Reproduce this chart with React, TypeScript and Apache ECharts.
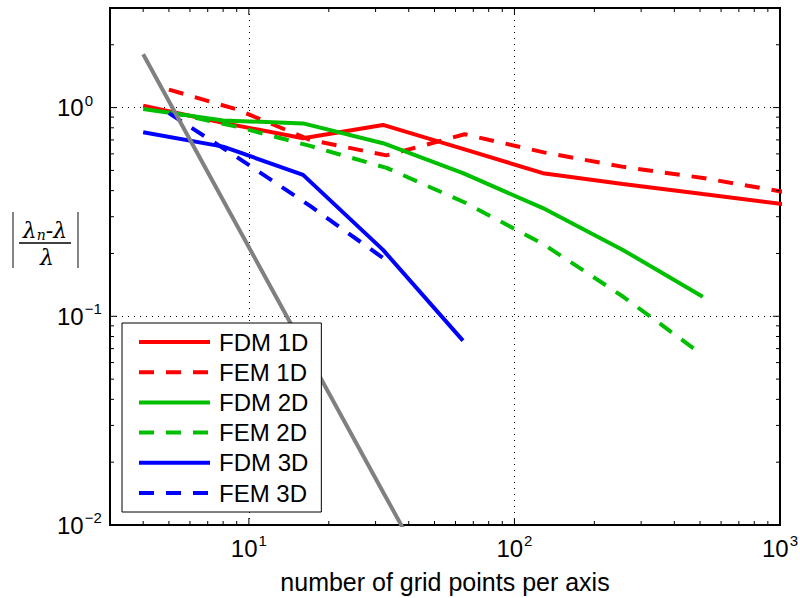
import React, { useEffect, useRef } from 'react';
import * as echarts from 'echarts';

// grid sizes (x) for finite differences and finite elements
const fdmX = [4, 8, 16, 32, 64, 128, 256, 512, 1024];
const femX = [5, 9, 17, 33, 65, 129, 257, 513, 1025];

// relative eigenvalue errors
const fdm1D = [1.02, 0.845, 0.713, 0.826, 0.634, 0.485, 0.43, 0.385, 0.345];
const fem1D = [1.22, 0.98, 0.7, 0.59, 0.745, 0.61, 0.52, 0.46, 0.395];
const fdm2D = [0.985, 0.868, 0.84, 0.675, 0.485, 0.33, 0.208, 0.124];
const fem2D = [0.95, 0.81, 0.655, 0.514, 0.351, 0.221, 0.124, 0.065];
const fdm3D = [0.762, 0.65, 0.476, 0.208, 0.0765];
const fem3D = [0.94, 0.58, 0.338, 0.185];

// gray reference line
const refX = [4, 8, 16, 32, 64];
const refY = [1.8, 0.36, 0.072, 0.0144, 0.0029];

const seriesNames = ['FDM 1D', 'FEM 1D', 'FDM 2D', 'FEM 2D', 'FDM 3D', 'FEM 3D'];
const seriesColors = ['#ff0000', '#ff0000', '#00bf00', '#00bf00', '#0000ff', '#0000ff'];
const seriesDashed = [false, true, false, true, false, true];

// axis ranges and ticks
const xMin = 3;
const xMax = 1000;
const yMin = 0.01;
const yMax = 3;
const xMajorTicks = [10, 100, 1000];
const yMajorTicks = [0.01, 0.1, 1];
const xDecades = [1, 10, 100];
const yDecades = [0.01, 0.1, 1];
const minorMultipliers = [2, 3, 4, 5, 6, 7, 8, 9];

const FONT = 'Liberation Sans';

function zip(xs: number[], ys: number[]) {
  return ys.map((y, i) => [xs[i], y]);
}

function supLabel(v: number) {
  const e = Math.log10(v);
  const r = Math.round(e);
  if (Math.abs(e - r) > 1e-6) return '';
  return `{b|10}{s|${r < 0 ? '\u2212' + -r : r}}`;
}

const labelRich = {
  b: { fontSize: 24, fontFamily: FONT, color: '#000', lineHeight: 32 },
  s: { fontSize: 15, fontFamily: FONT, color: '#000', lineHeight: 15, padding: [0, 0, 15, 1] },
};

export default function App() {
  const ref = useRef<HTMLDivElement>(null);

  useEffect(() => {
    if (!ref.current) return;
    const chart = echarts.init(ref.current, undefined, { renderer: 'svg' });

    const xMinor: number[] = [];
    xDecades.forEach((d) => minorMultipliers.forEach((m) => {
      const v = d * m;
      if (v >= xMin && v <= xMax) xMinor.push(v);
    }));
    const yMinor: number[] = [];
    yDecades.forEach((d) => minorMultipliers.forEach((m) => {
      const v = d * m;
      if (v >= yMin && v <= yMax + 1e-9) yMinor.push(v);
    }));

    const dataSets = [
      zip(fdmX, fdm1D),
      zip(femX, fem1D),
      zip(fdmX, fdm2D),
      zip(femX, fem2D),
      zip(fdmX, fdm3D),
      zip(femX, fem3D),
    ];

    const lineSeries: any[] = dataSets.map((d, i) => ({
      name: seriesNames[i],
      type: 'line',
      data: d,
      symbol: 'none',
      showSymbol: false,
      clip: true,
      lineStyle: {
        color: seriesColors[i],
        width: 4,
        type: seriesDashed[i] ? [15, 12] : 'solid',
        cap: 'butt',
      },
      itemStyle: { color: seriesColors[i] },
      z: 3,
    }));

    lineSeries.push({
      name: 'reference',
      type: 'line',
      data: zip(refX, refY),
      symbol: 'none',
      showSymbol: false,
      clip: true,
      lineStyle: { color: '#808080', width: 4 },
      z: 4,
    });

    const tickStyle = { stroke: '#000', lineWidth: 1 };

    lineSeries.push({
      name: 'xticks',
      type: 'custom',
      silent: true,
      clip: false,
      z: 6,
      encode: { x: 0, y: 1 },
      data: [...xMajorTicks.map((v) => [v, 1, 1]), ...xMinor.map((v) => [v, 1, 0])],
      renderItem: (params: any, api: any) => {
        const p = api.coord([api.value(0), 1]);
        const cs = params.coordSys;
        const len = api.value(2) ? 7 : 4;
        const bottom = cs.y + cs.height;
        return {
          type: 'group',
          children: [
            { type: 'line', shape: { x1: p[0], y1: bottom, x2: p[0], y2: bottom - len }, style: tickStyle },
            { type: 'line', shape: { x1: p[0], y1: cs.y, x2: p[0], y2: cs.y + len }, style: tickStyle },
          ],
        };
      },
    });

    lineSeries.push({
      name: 'yticks',
      type: 'custom',
      silent: true,
      clip: false,
      z: 6,
      encode: { x: 0, y: 1 },
      data: [...yMajorTicks.map((v) => [10, v, 1]), ...yMinor.map((v) => [10, v, 0])],
      renderItem: (params: any, api: any) => {
        const p = api.coord([10, api.value(1)]);
        const cs = params.coordSys;
        const len = api.value(2) ? 7 : 4;
        const right = cs.x + cs.width;
        return {
          type: 'group',
          children: [
            { type: 'line', shape: { x1: cs.x, y1: p[1], x2: cs.x + len, y2: p[1] }, style: tickStyle },
            { type: 'line', shape: { x1: right, y1: p[1], x2: right - len, y2: p[1] }, style: tickStyle },
          ],
        };
      },
    });

    const option: any = {
      animation: false,
      backgroundColor: '#fff',
      grid: {
        left: 110,
        right: 20,
        top: 8,
        bottom: 73,
        show: true,
        borderColor: '#000',
        borderWidth: 2,
        backgroundColor: 'transparent',
        containLabel: false,
        outerBoundsMode: 'none',
      },
      legend: {
        data: seriesNames,
        orient: 'vertical',
        left: 122,
        top: 323,
        itemWidth: 71,
        itemHeight: 24,
        itemGap: 6.2,
        padding: [7, 13, 7, 15],
        borderColor: '#000',
        borderWidth: 1,
        backgroundColor: '#fff',
        selectedMode: false,
        itemStyle: { opacity: 0 },
        lineStyle: { width: 4 },
        textStyle: { fontSize: 24, fontFamily: FONT, color: '#000', lineHeight: 24, padding: [0, 0, 0, 4] },
        z: 10,
      },
      xAxis: {
        type: 'log',
        logBase: 10,
        min: xMin,
        max: xMax,
        name: 'number of grid points per axis',
        nameLocation: 'middle',
        nameGap: 44,
        nameTextStyle: { fontSize: 25, fontFamily: FONT, color: '#000' },
        axisLine: { show: false },
        axisTick: { show: false },
        axisLabel: { formatter: supLabel, rich: labelRich, margin: 7 },
        splitLine: { show: true, lineStyle: { color: '#000', width: 1, type: [1, 5] } },
        minorTick: { show: false },
      },
      yAxis: {
        type: 'log',
        logBase: 10,
        min: yMin,
        max: yMax,
        axisLine: { show: false },
        axisTick: { show: false },
        axisLabel: { formatter: supLabel, rich: labelRich, margin: 53, align: 'left' },
        splitLine: { show: true, lineStyle: { color: '#000', width: 1, type: [1, 5] } },
      },
      graphic: [
        { type: 'line', shape: { x1: 13, y1: 212, x2: 13, y2: 268 }, style: { stroke: '#333', lineWidth: 1.2 } },
        { type: 'line', shape: { x1: 78, y1: 212, x2: 78, y2: 268 }, style: { stroke: '#333', lineWidth: 1.2 } },
        { type: 'line', shape: { x1: 19, y1: 243, x2: 71, y2: 243 }, style: { stroke: '#000', lineWidth: 1.5 } },
        {
          type: 'text',
          x: 45,
          y: 230,
          style: {
            text: '{a|\u03bb}{n|n}{a|-\u03bb}',
            align: 'center',
            verticalAlign: 'middle',
            rich: {
              a: { fontSize: 22, fontFamily: 'DejaVu Serif', fontStyle: 'italic', fill: '#000', lineHeight: 26 },
              n: { fontSize: 14, fontFamily: 'DejaVu Serif', fontStyle: 'italic', fill: '#000', lineHeight: 14, padding: [10, 0, 0, 0] },
            },
          },
        },
        {
          type: 'text',
          x: 47,
          y: 257,
          style: {
            text: '\u03bb',
            align: 'center',
            verticalAlign: 'middle',
            fontSize: 22,
            fontFamily: 'DejaVu Serif',
            fontStyle: 'italic',
            fill: '#000',
          },
        },
      ],
      series: lineSeries,
    };

    chart.setOption(option);
    return () => chart.dispose();
  }, []);

  return (
    <div
      ref={ref}
      style={{ position: 'absolute', left: 0, top: 0, width: 800, height: 598, background: '#fff' }}
    />
  );
}
